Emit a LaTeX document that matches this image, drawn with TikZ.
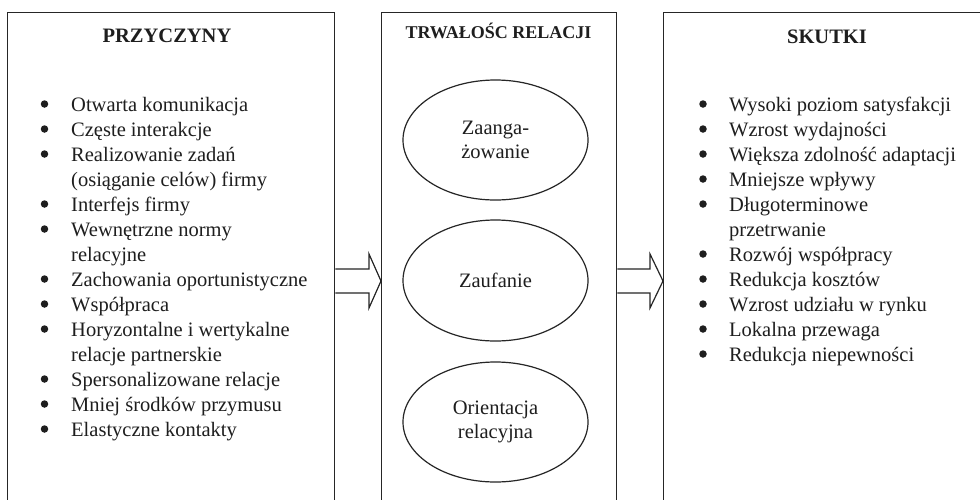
\documentclass[tikz,border=0pt]{standalone}
\usepackage{fontspec}
\setmainfont{Liberation Serif}
\usetikzlibrary{calc,shapes.geometric}
\definecolor{linec}{HTML}{262626}
\definecolor{txtc}{HTML}{1E1E1E}
\begin{document}
\begin{tikzpicture}[x=1pt,y=-1pt,
  panel/.style={draw=linec, line width=1.3pt, rectangle, inner sep=0pt, anchor=north west},
  head/.style={font=\fontsize{20.5}{25}\selectfont\bfseries, text=txtc, anchor=base, inner sep=0pt},
  headsmall/.style={font=\fontsize{18}{22}\selectfont\bfseries, text=txtc, anchor=base, inner sep=0pt},
  itemtxt/.style={font=\fontsize{20.5}{25}\selectfont, text=txtc, anchor=base west, inner sep=0pt},
  bul/.style={circle, fill=txtc, inner sep=0pt, minimum size=7.5pt},
  ell/.style={ellipse, draw=linec, line width=1.2pt, inner sep=0pt, minimum width=185pt, minimum height=120pt,
    align=center, font=\fontsize{20.5}{24}\selectfont, text=txtc},
  barrow/.style={draw=linec, line width=1.2pt, fill=white, line join=miter}
]
\clip (0,0) rectangle (980,499);
\fill[white] (0,0) rectangle (980,499);

% panels
\node[panel, minimum width=327pt, minimum height=520pt] (L) at (7,12) {};
\node[panel, minimum width=235pt, minimum height=520pt] (M) at (381,12) {};
\node[panel, minimum width=340pt, minimum height=520pt] (R) at (663,12) {};

% headings
\node[head] (hL) at (167,42) {PRZYCZYNY};
\node[headsmall] (hM) at (498.5,38.5) {TRWAŁOŚC RELACJI};
\node[head] (hR) at (827,43) {SKUTKI};

% left list
\node[bul] (bl1) at (44.5,104) {}; \node[itemtxt] (l1) at (71,111) {Otwarta komunikacja};
\node[bul] (bl2) at (44.5,129) {}; \node[itemtxt] (l2) at (71,136) {Częste interakcje};
\node[bul] (bl3) at (44.5,154) {}; \node[itemtxt] (l3) at (71,161) {Realizowanie zadań};
\node[itemtxt] (l3b) at (71,186) {(osiąganie celów) firmy};
\node[bul] (bl4) at (44.5,204) {}; \node[itemtxt] (l4) at (71,211) {Interfejs firmy};
\node[bul] (bl5) at (44.5,229) {}; \node[itemtxt] (l5) at (71,236) {Wewnętrzne normy};
\node[itemtxt] (l5b) at (71,261) {relacyjne};
\node[bul] (bl6) at (44.5,279) {}; \node[itemtxt] (l6) at (71,286) {Zachowania oportunistyczne};
\node[bul] (bl7) at (44.5,304) {}; \node[itemtxt] (l7) at (71,311) {Współpraca};
\node[bul] (bl8) at (44.5,329) {}; \node[itemtxt] (l8) at (71,336) {Horyzontalne i wertykalne};
\node[itemtxt] (l8b) at (71,361) {relacje partnerskie};
\node[bul] (bl9) at (44.5,379) {}; \node[itemtxt] (l9) at (71,386) {Spersonalizowane relacje};
\node[bul] (bl10) at (44.5,404) {}; \node[itemtxt] (l10) at (71,411) {Mniej środków przymusu};
\node[bul] (bl11) at (44.5,429) {}; \node[itemtxt] (l11) at (71,436) {Elastyczne kontakty};

% right list
\node[bul] (br1) at (703,104) {}; \node[itemtxt] (r1) at (729,111) {Wysoki poziom satysfakcji};
\node[bul] (br2) at (703,129) {}; \node[itemtxt] (r2) at (729,136) {Wzrost wydajności};
\node[bul] (br3) at (703,154) {}; \node[itemtxt] (r3) at (729,161) {Większa zdolność adaptacji};
\node[bul] (br4) at (703,179) {}; \node[itemtxt] (r4) at (729,186) {Mniejsze wpływy};
\node[bul] (br5) at (703,204) {}; \node[itemtxt] (r5) at (729,211) {Długoterminowe};
\node[itemtxt] (r5b) at (729,236) {przetrwanie};
\node[bul] (br6) at (703,254) {}; \node[itemtxt] (r6) at (729,261) {Rozwój współpracy};
\node[bul] (br7) at (703,279) {}; \node[itemtxt] (r7) at (729,286) {Redukcja kosztów};
\node[bul] (br8) at (703,304) {}; \node[itemtxt] (r8) at (729,311) {Wzrost udziału w rynku};
\node[bul] (br9) at (703,329) {}; \node[itemtxt] (r9) at (729,336) {Lokalna przewaga};
\node[bul] (br10) at (703,354) {}; \node[itemtxt] (r10) at (729,361) {Redukcja niepewności};

% ellipses
\node[ell] (e1) at (495.5,140) {Zaanga-\\żowanie};
\node[ell, minimum height=121pt] (e2) at (495.5,280.5) {Zaufanie};
\node[ell] (e3) at (495.5,422) {Orientacja\\relacyjna};

% block arrows
\draw[barrow] (L.east |- 0,269) -- ($(M.west |- 0,269)+(-12,0)$) -- ($(M.west |- 0,254)+(-12,0)$)
  -- (M.west |- 0,281) -- ($(M.west |- 0,308)+(-12,0)$) -- ($(M.west |- 0,293)+(-12,0)$) -- (L.east |- 0,293);
\draw[barrow] (M.east |- 0,269) -- ($(R.west |- 0,269)+(-13,0)$) -- ($(R.west |- 0,254)+(-13,0)$)
  -- (R.west |- 0,281) -- ($(R.west |- 0,308)+(-13,0)$) -- ($(R.west |- 0,293)+(-13,0)$) -- (M.east |- 0,293);
\end{tikzpicture}
\end{document}
